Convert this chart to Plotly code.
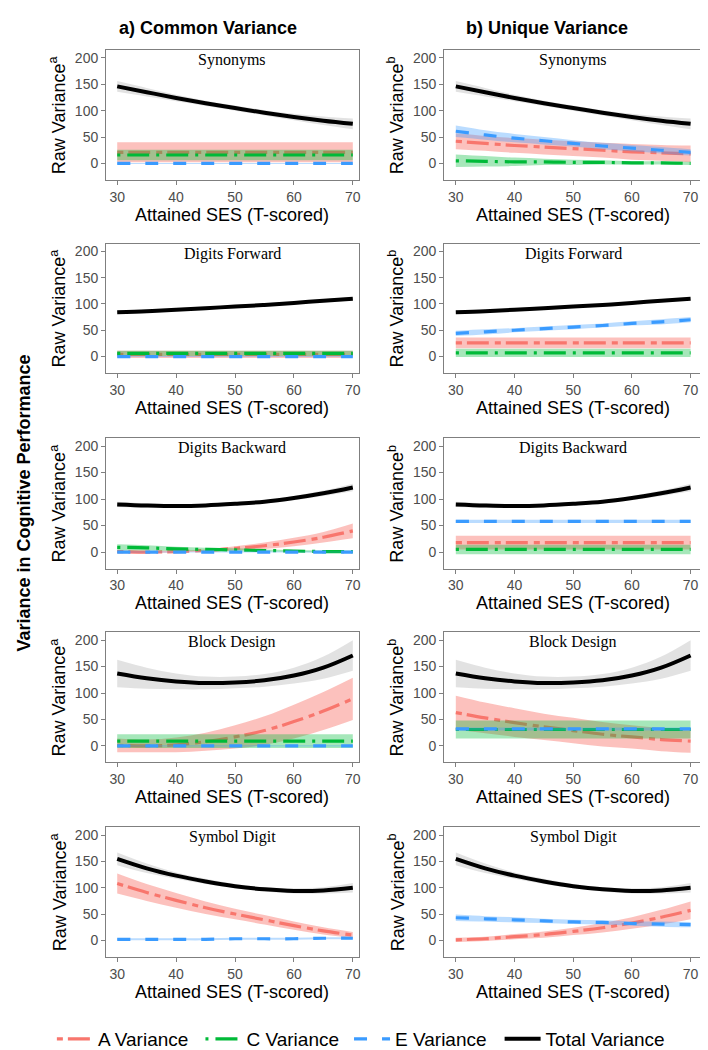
import plotly.graph_objects as go
from plotly.subplots import make_subplots

# ---------------- data ----------------
SES = [30, 35, 40, 45, 50, 55, 60, 65, 70]
X_TICKS = [30, 40, 50, 60, 70]
Y_TICKS = [0, 50, 100, 150, 200]
TESTS = ["Synonyms", "Digits Forward", "Digits Backward", "Block Design", "Symbol Digit"]
COLUMN_TITLES = ["a) Common Variance", "b) Unique Variance"]
Y_LABELS = ["Raw Variance<sup>a</sup>", "Raw Variance<sup>b</sup>"]
X_LABEL = "Attained SES (T-scored)"
SIDE_LABEL = "Variance in Cognitive Performance"
SERIES = ["A Variance", "C Variance", "E Variance", "Total Variance"]

# Synonyms
syn_total = [146, 135, 124, 114, 105, 96, 88, 81, 75]
syn_total_ci = [10, 8, 6, 5, 5, 5, 6, 8, 10]
syn_a_common = [21, 21, 21, 21, 21, 21, 21, 21, 21]
syn_a_common_ci = [19, 19, 19, 19, 19, 19, 19, 19, 19]
syn_c_common = [16, 16, 16, 16, 16, 16, 16, 16, 16]
syn_c_common_ci = [10, 10, 10, 10, 10, 10, 10, 10, 10]
syn_e_common = [0, 0, 0, 0, 0, 0, 0, 0, 0]
syn_e_common_ci = [1, 1, 1, 1, 1, 1, 1, 1, 1]
syn_a_unique = [42, 38, 34, 31, 28, 25, 22, 20, 18]
syn_a_unique_ci = [15, 14, 14, 14, 14, 14, 15, 15, 16]
syn_c_unique = [5, 4, 3, 3, 2, 2, 1, 1, 0]
syn_c_unique_ci = [12, 10, 8, 6, 5, 4, 3, 3, 3]
syn_e_unique = [61, 54, 48, 43, 38, 33, 29, 25, 21]
syn_e_unique_ci = [11, 9, 8, 7, 6, 6, 6, 6, 6]

# Digits Forward
dfw_total = [84, 86, 89, 92, 95, 98, 102, 106, 110]
dfw_total_ci = [3, 3, 3, 3, 3, 3, 3, 3, 3]
dfw_a_common = [4, 4, 4, 4, 4, 4, 4, 4, 4]
dfw_a_common_ci = [7, 7, 7, 7, 7, 7, 7, 7, 7]
dfw_c_common = [6, 6, 6, 6, 6, 6, 6, 6, 6]
dfw_c_common_ci = [5, 5, 5, 5, 5, 5, 5, 5, 5]
dfw_e_common = [0, 0, 0, 0, 0, 0, 0, 0, 0]
dfw_e_common_ci = [1, 1, 1, 1, 1, 1, 1, 1, 1]
dfw_a_unique = [26, 26, 26, 26, 26, 26, 26, 26, 26]
dfw_a_unique_ci = [10, 10, 10, 10, 10, 10, 10, 10, 10]
dfw_c_unique = [7, 7, 7, 7, 7, 7, 7, 7, 7]
dfw_c_unique_ci = [8, 8, 8, 8, 8, 8, 8, 8, 8]
dfw_e_unique = [44, 47, 50, 53, 56, 59, 63, 66, 70]
dfw_e_unique_ci = [5, 5, 4, 4, 4, 4, 4, 5, 5]

# Digits Backward
dbw_total = [90, 88, 87, 88, 91, 95, 102, 111, 122]
dbw_total_ci = [5, 4, 3, 3, 3, 3, 4, 5, 7]
dbw_a_common = [1, 0, 1, 3, 7, 12, 19, 28, 40]
dbw_a_common_ci = [3, 2, 2, 2, 4, 6, 8, 10, 14]
dbw_c_common = [9, 8, 6, 5, 4, 3, 2, 1, 1]
dbw_c_common_ci = [6, 5, 4, 3, 3, 2, 2, 2, 2]
dbw_e_common = [0, 0, 0, 0, 0, 0, 0, 0, 0]
dbw_e_common_ci = [1, 1, 1, 1, 1, 1, 1, 1, 1]
dbw_a_unique = [18, 18, 18, 18, 18, 18, 18, 18, 18]
dbw_a_unique_ci = [13, 13, 13, 13, 13, 13, 13, 13, 13]
dbw_c_unique = [5, 5, 5, 5, 5, 5, 5, 5, 5]
dbw_c_unique_ci = [9, 9, 9, 9, 9, 9, 9, 9, 9]
dbw_e_unique = [58, 58, 58, 58, 58, 58, 58, 58, 58]
dbw_e_unique_ci = [3, 3, 3, 3, 3, 3, 3, 3, 3]

# Block Design
bd_total = [137, 128, 122, 119, 120, 124, 133, 148, 171]
bd_total_ci = [26, 20, 15, 12, 11, 12, 15, 21, 29]
bd_a_common = [1, 0, 2, 8, 17, 29, 46, 66, 89]
bd_a_common_ci = [13, 12, 14, 17, 22, 27, 32, 36, 40]
bd_c_common = [9, 9, 9, 9, 9, 9, 9, 9, 9]
bd_c_common_ci = [13, 13, 13, 13, 13, 13, 13, 13, 13]
bd_e_common = [0, 0, 0, 0, 0, 0, 0, 0, 0]
bd_e_common_ci = [1, 1, 1, 1, 1, 1, 1, 1, 1]
bd_a_unique = [63, 53, 44, 36, 29, 22, 17, 12, 9]
bd_a_unique_ci = [32, 29, 27, 25, 24, 23, 22, 22, 22]
bd_c_unique = [31, 31, 31, 31, 31, 31, 31, 31, 31]
bd_c_unique_ci = [17, 17, 17, 17, 17, 17, 17, 17, 17]
bd_e_unique = [32, 32, 32, 32, 32, 32, 32, 32, 32]
bd_e_unique_ci = [3, 3, 3, 3, 3, 3, 3, 3, 3]

# Symbol Digit
sd_total = [155, 137, 123, 112, 103, 97, 94, 95, 100]
sd_total_ci = [12, 9, 6, 5, 4, 4, 5, 6, 9]
sd_a_common = [108, 91, 76, 62, 50, 39, 28, 18, 10]
sd_a_common_ci = [19, 16, 14, 12, 10, 9, 8, 7, 6]
sd_e_common = [2, 2, 2, 2, 3, 3, 3, 4, 4]
sd_e_common_ci = [2, 2, 2, 2, 2, 2, 2, 2, 2]
sd_a_unique = [1, 3, 7, 11, 17, 24, 33, 44, 57]
sd_a_unique_ci = [4, 4, 5, 6, 7, 9, 11, 14, 17]
sd_e_unique = [43, 41, 39, 37, 35, 34, 32, 31, 30]
sd_e_unique_ci = [6, 5, 5, 4, 4, 4, 4, 5, 5]

# panel contents: (row, col) -> list of (series name, mean, ci half-width)
PANELS = {
    (0, 0): [("A Variance", syn_a_common, syn_a_common_ci), ("C Variance", syn_c_common, syn_c_common_ci),
             ("E Variance", syn_e_common, syn_e_common_ci), ("Total Variance", syn_total, syn_total_ci)],
    (0, 1): [("A Variance", syn_a_unique, syn_a_unique_ci), ("C Variance", syn_c_unique, syn_c_unique_ci),
             ("E Variance", syn_e_unique, syn_e_unique_ci), ("Total Variance", syn_total, syn_total_ci)],
    (1, 0): [("A Variance", dfw_a_common, dfw_a_common_ci), ("C Variance", dfw_c_common, dfw_c_common_ci),
             ("E Variance", dfw_e_common, dfw_e_common_ci), ("Total Variance", dfw_total, dfw_total_ci)],
    (1, 1): [("A Variance", dfw_a_unique, dfw_a_unique_ci), ("C Variance", dfw_c_unique, dfw_c_unique_ci),
             ("E Variance", dfw_e_unique, dfw_e_unique_ci), ("Total Variance", dfw_total, dfw_total_ci)],
    (2, 0): [("A Variance", dbw_a_common, dbw_a_common_ci), ("C Variance", dbw_c_common, dbw_c_common_ci),
             ("E Variance", dbw_e_common, dbw_e_common_ci), ("Total Variance", dbw_total, dbw_total_ci)],
    (2, 1): [("A Variance", dbw_a_unique, dbw_a_unique_ci), ("C Variance", dbw_c_unique, dbw_c_unique_ci),
             ("E Variance", dbw_e_unique, dbw_e_unique_ci), ("Total Variance", dbw_total, dbw_total_ci)],
    (3, 0): [("A Variance", bd_a_common, bd_a_common_ci), ("C Variance", bd_c_common, bd_c_common_ci),
             ("E Variance", bd_e_common, bd_e_common_ci), ("Total Variance", bd_total, bd_total_ci)],
    (3, 1): [("A Variance", bd_a_unique, bd_a_unique_ci), ("C Variance", bd_c_unique, bd_c_unique_ci),
             ("E Variance", bd_e_unique, bd_e_unique_ci), ("Total Variance", bd_total, bd_total_ci)],
    (4, 0): [("A Variance", sd_a_common, sd_a_common_ci),
             ("E Variance", sd_e_common, sd_e_common_ci), ("Total Variance", sd_total, sd_total_ci)],
    (4, 1): [("A Variance", sd_a_unique, sd_a_unique_ci),
             ("E Variance", sd_e_unique, sd_e_unique_ci), ("Total Variance", sd_total, sd_total_ci)],
}

# ---------------- styles ----------------
LINE_COLOR = {"A Variance": "#F8766D", "C Variance": "#00BA38", "E Variance": "#3A9BFF", "Total Variance": "#000000"}
FILL_COLOR = {"A Variance": "rgba(248,118,109,0.45)", "C Variance": "rgba(0,186,56,0.35)",
              "E Variance": "rgba(58,155,255,0.35)", "Total Variance": "rgba(150,150,150,0.28)"}
DASH = {"A Variance": "6px,5px,22px,6px", "C Variance": "3px,7px,22px,7px",
        "E Variance": "13px,15px", "Total Variance": "solid"}
WIDTH = {"A Variance": 3.2, "C Variance": 3.2, "E Variance": 3.2, "Total Variance": 4}
LEGEND_ID = {"A Variance": "legend", "C Variance": "legend2", "E Variance": "legend3", "Total Variance": "legend4"}
LEGEND_SYMBOL_X = {"A Variance": 50, "C Variance": 199, "E Variance": 348, "Total Variance": 499}

FIG_W, FIG_H = 708, 1050
COL_X = [(98.3, 351.7), (437.3, 696.3)]
ROW_Y = [(42.3, 172.7), (236.7, 366.7), (432.3, 563.3), (627.3, 758.0), (823.3, 953.3)]
X_RANGES = [[28.1, 71.0], [28.0, 72.0]]
Y_RANGE = [-31.2, 214.8]
SANS = "Liberation Sans, Arial, Helvetica, sans-serif"
SERIF = "Liberation Serif, Times New Roman, serif"


def px_x(p):
    return p / FIG_W


def px_y(p):
    return 1 - p / FIG_H


fig = make_subplots(rows=5, cols=2)

legend_done = set()
for (r, c), series in PANELS.items():
    for name, mean, ci in series:
        lo = [m - h for m, h in zip(mean, ci)]
        hi = [m + h for m, h in zip(mean, ci)]
        fig.add_trace(go.Scatter(x=SES, y=lo, mode="lines", line=dict(width=0, shape="spline"),
                                 showlegend=False, hoverinfo="skip"), row=r + 1, col=c + 1)
        fig.add_trace(go.Scatter(x=SES, y=hi, mode="lines", line=dict(width=0, shape="spline"),
                                 fill="tonexty", fillcolor=FILL_COLOR[name],
                                 showlegend=False, hoverinfo="skip"), row=r + 1, col=c + 1)
        show = name not in legend_done
        legend_done.add(name)
        fig.add_trace(go.Scatter(x=SES, y=mean, mode="lines", name=name,
                                 line=dict(color=LINE_COLOR[name], width=WIDTH[name],
                                           dash=DASH[name], shape="spline"),
                                 showlegend=show, legend=LEGEND_ID[name]),
                      row=r + 1, col=c + 1)

annotations = []
for r in range(5):
    top, bot = ROW_Y[r]
    for c in range(2):
        left, right = COL_X[c]
        fig.update_xaxes(row=r + 1, col=c + 1, domain=[px_x(left), px_x(right)], range=X_RANGES[c],
                         tickvals=X_TICKS, ticks="outside", ticklen=4, tickwidth=1, tickcolor="#7F7F7F",
                         tickfont=dict(family=SANS, size=14, color="#4D4D4D"),
                         showline=True, linecolor="#7F7F7F", linewidth=1, mirror=True,
                         showgrid=False, zeroline=False)
        fig.update_yaxes(row=r + 1, col=c + 1, domain=[px_y(bot), px_y(top)], range=Y_RANGE,
                         tickvals=Y_TICKS, ticks="outside", ticklen=4, tickwidth=1, tickcolor="#7F7F7F",
                         tickfont=dict(family=SANS, size=14, color="#4D4D4D"),
                         showline=True, linecolor="#7F7F7F", linewidth=1, mirror=True,
                         showgrid=False, zeroline=False)
        cx = (left + right) / 2
        # panel title inside plot
        annotations.append(dict(text=TESTS[r], x=px_x(cx), y=px_y(top + 10), xref="paper", yref="paper",
                                xanchor="center", yanchor="middle", showarrow=False,
                                font=dict(family=SERIF, size=16, color="#000000")))
        # x axis title
        annotations.append(dict(text=X_LABEL, x=px_x(cx), y=px_y(bot + 35), xref="paper", yref="paper",
                                xanchor="center", yanchor="middle", showarrow=False,
                                font=dict(family=SANS, size=18, color="#000000")))
        # y axis title
        annotations.append(dict(text=Y_LABELS[c], x=px_x(left - 48), y=px_y((top + bot) / 2),
                                xref="paper", yref="paper", xanchor="center", yanchor="middle",
                                textangle=-90, showarrow=False,
                                font=dict(family=SANS, size=18, color="#000000")))

# column headers
for c, cx in enumerate([201, 541]):
    annotations.append(dict(text="<b>" + COLUMN_TITLES[c] + "</b>", x=px_x(cx), y=px_y(20),
                            xref="paper", yref="paper", xanchor="center", yanchor="middle",
                            showarrow=False, font=dict(family=SANS, size=18, color="#000000")))
# side label
annotations.append(dict(text="<b>" + SIDE_LABEL + "</b>", x=px_x(16), y=px_y(497),
                        xref="paper", yref="paper", xanchor="center", yanchor="middle",
                        textangle=-90, showarrow=False, font=dict(family=SANS, size=18, color="#000000")))

legend_layouts = {}
for name in SERIES:
    legend_layouts[LEGEND_ID[name]] = dict(
        orientation="h", x=px_x(LEGEND_SYMBOL_X[name] - 6), xanchor="left",
        y=px_y(1036), yanchor="middle", itemwidth=36,
        font=dict(family=SANS, size=19, color="#000000"), bgcolor="rgba(0,0,0,0)")

fig.update_layout(
    width=FIG_W, height=FIG_H,
    margin=dict(l=0, r=0, t=0, b=0),
    paper_bgcolor="white", plot_bgcolor="white",
    annotations=annotations,
    showlegend=True,
    **legend_layouts,
)

fig.write_html("out.html")
